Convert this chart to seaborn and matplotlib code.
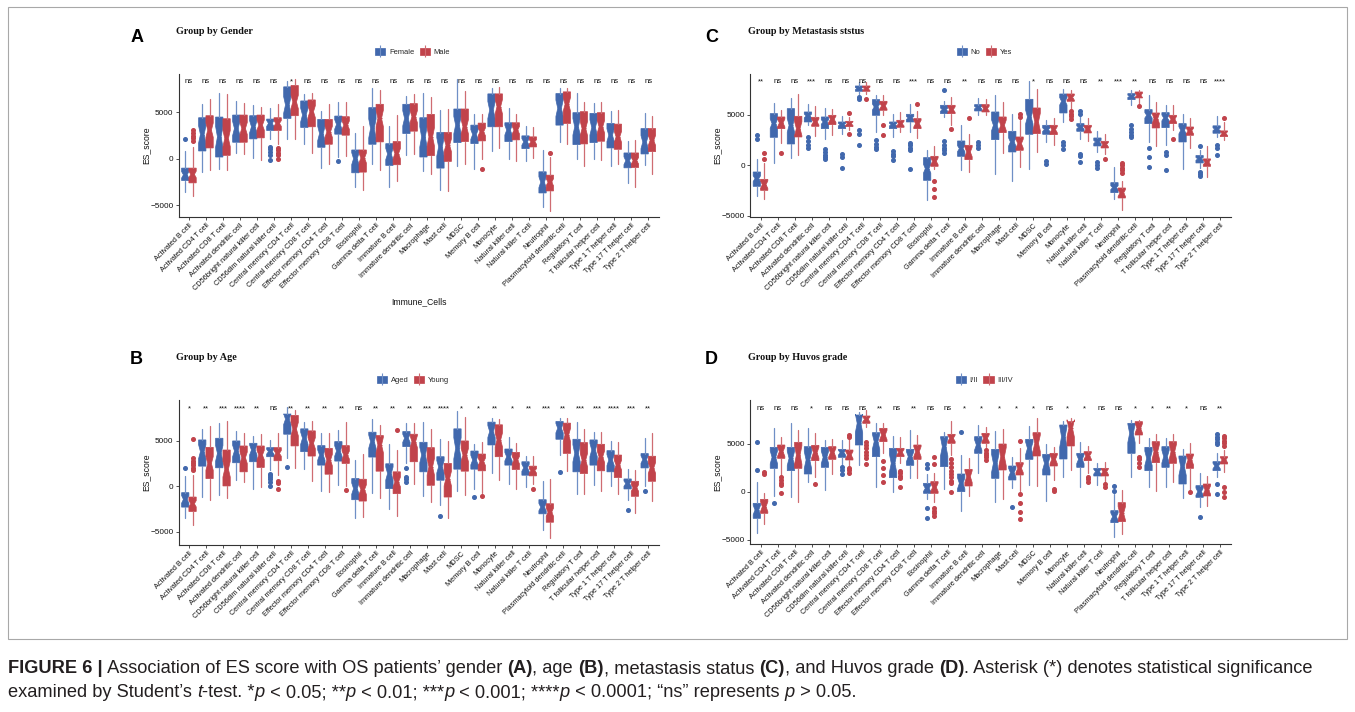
import numpy as np
import matplotlib
matplotlib.use("Agg")
import matplotlib.pyplot as plt
import seaborn as sns
from matplotlib.patches import Patch, Rectangle
from matplotlib.lines import Line2D
from matplotlib.legend_handler import HandlerTuple

# ---------------------------------------------------------------- data
CELLS = ["Activated B cell", "Activated CD4 T cell", "Activated CD8 T cell",
         "Activated dendritic cell", "CD56bright natural killer cell",
         "CD56dim natural killer cell", "Central memory CD4 T cell",
         "Central memory CD8 T cell", "Effector memory CD4 T cell",
         "Effector memory CD8 T cell", "Eosinophil", "Gamma delta T cell",
         "Immature B cell", "Immature dendritic cell", "Macrophage", "Mast cell",
         "MDSC", "Memory B cell", "Monocyte", "Natural killer cell",
         "Natural killer T cell", "Neutrophil", "Plasmacytoid dendritic cell",
         "Regulatory T cell", "T follicular helper cell", "Type 1 T helper cell",
         "Type 17 T helper cell", "Type 2 T helper cell"]

GENDER = ["Female", "Male"]
AGE = ["Aged", "Young"]
METAST = ["No", "Yes"]
HUVOS = ["I/II", "III/IV"]

# group sizes (used for notch width: median +/- 1.58*IQR/sqrt(n))
GENDER_N = [37, 51]
AGE_N = [36, 52]
METAST_N = [66, 22]
HUVOS_N = [26, 20]

SIG_A = ["ns"] * 6 + ["*"] + ["ns"] * 21
SIG_B = ["*", "**", "***", "****", "**", "ns", "**", "**", "**", "**", "ns", "**", "**", "**",
         "***", "****", "*", "*", "**", "*", "**", "***", "**", "***", "***", "****", "***", "**"]
SIG_C = ["**", "ns", "ns", "***", "ns", "ns", "ns", "ns", "ns", "***", "ns", "ns", "**", "ns",
         "ns", "ns", "*", "ns", "ns", "ns", "**", "***", "**", "ns", "ns", "ns", "ns", "****"]
SIG_D = ["ns", "ns", "ns", "*", "ns", "ns", "ns", "**", "ns", "**", "ns", "ns", "*", "*",
         "*", "*", "*", "ns", "*", "*", "ns", "ns", "*", "*", "**", "*", "ns", "**"]

# ---- Panel A : Female
A_F_Q1 = [-2355, 833, 181, 1775, 2138, 3043, 4348, 3370, 1232, 2645, -1522, 1558, -725, 2717, 181, -1014, 1739, 1630, 3442, 1848, 1087, -3696, 3623, 1522, 1739, 1159, -985, 511]
A_F_MED = [-1740, 2609, 2355, 3260, 3442, 3804, 5797, 4710, 2717, 3695, 0, 3260, 507, 4348, 2355, 1268, 3623, 2609, 5253, 3080, 1812, -2536, 5435, 3442, 3370, 2536, -219, 1789]
A_F_Q3 = [-1014, 4420, 4493, 4710, 4637, 4275, 7753, 6232, 4239, 4601, 942, 5507, 1620, 5869, 4420, 2826, 5362, 3623, 6993, 3877, 2464, -1413, 7029, 4964, 4891, 3804, 620, 3249]
A_F_LO = [-3620, -1450, -1087, 652, 36, 2101, 2101, 1594, -1014, 217, -3007, -616, -3007, 362, -1304, -3369, -833, -1087, 797, 0, -217, -5217, 1775, -72, -72, -833, -2664, -657]
A_F_HI = [797, 5906, 7101, 6268, 5833, 5435, 8333, 7029, 5181, 6159, 2826, 7608, 3514, 6739, 7137, 5253, 8623, 4818, 7608, 5507, 3514, 942, 7608, 7101, 6050, 5145, 1861, 4964]
A_F_OUT = [[2100], [], [], [], [], [1268, 1014, 725, 435, -109], [], [], [], [-290], [], [], [], [], [], [], [], [], [], [], [], [], [], [], [], [], [], []]
# ---- Panel A : Male
A_M_Q1 = [-2609, 1160, 362, 1775, 2246, 3043, 4637, 3442, 1558, 2536, -1449, 1812, -652, 2971, 326, -290, 1848, 1920, 3442, 2029, 1268, -3478, 3804, 1594, 1884, 1014, -949, 767]
A_M_MED = [-1700, 3080, 2174, 3260, 3623, 3804, 6123, 5072, 2898, 3623, 72, 4348, 543, 4529, 2355, 1449, 3442, 2898, 5616, 3080, 1812, -2536, 5869, 3260, 3442, 2355, -219, 1971]
A_M_Q3 = [-1014, 4637, 4311, 4710, 4710, 4420, 7898, 6340, 4239, 4529, 942, 5869, 1848, 5942, 4782, 2826, 5362, 3840, 6993, 3877, 2355, -1775, 7210, 5072, 4964, 3731, 620, 3249]
A_M_LO = [-4058, -1268, -1196, 543, -109, 1600, 2101, 652, -543, 254, -3369, -1196, -2389, 543, -1630, -3442, -616, -72, 1159, -217, 72, -5616, 1594, -761, -181, -580, -3030, -1679]
A_M_HI = [1268, 6413, 7029, 6014, 5616, 5942, 8623, 7101, 5869, 6159, 3551, 7427, 4742, 6993, 6630, 5362, 7355, 4782, 7717, 4855, 3442, 181, 7608, 6087, 6087, 5217, 1971, 4599]
A_M_OUT = [[3080, 2790, 2500, 2210, 1920], [], [], [], [], [1160, 906, 652, 362, 0], [], [], [], [], [], [], [], [], [], [], [], [-1087], [], [], [], [652], [], [], [], [], [], []]

# ---- Panel B : Aged
B_A_Q1 = [-2296, 2222, 2037, 2593, 2704, 3259, 5741, 3815, 2333, 2778, -1481, 3222, -259, 4370, 1593, 667, 1889, 1889, 4556, 2333, 1222, -3037, 5185, 1593, 2333, 1593, -294, 2024]
B_A_MED = [-1444, 3815, 3630, 3889, 4000, 3815, 7400, 5296, 3444, 3889, -259, 4926, 1407, 5296, 3444, 2148, 4185, 2889, 6037, 3259, 2037, -2296, 6407, 3630, 4000, 2889, 294, 2944]
B_A_Q3 = [-704, 5111, 5296, 5000, 4741, 4259, 7963, 6333, 4481, 4926, 852, 5963, 2481, 6037, 4852, 3259, 6333, 3889, 7074, 4111, 2704, -1481, 7148, 5185, 5111, 3926, 810, 3606]
B_A_LO = [-3482, -1185, -1000, 667, -259, 1800, 3074, 1852, -519, 111, -3519, -704, -2481, 2519, -1074, -2111, -556, -259, 1481, 296, -74, -4815, 3444, -815, 111, 0, -1472, 0]
B_A_HI = [1148, 6333, 6963, 6111, 5593, 5111, 8700, 7074, 5852, 6222, 2889, 7444, 4667, 6963, 7037, 5222, 8333, 4667, 7519, 5407, 3370, 556, 7519, 7037, 5963, 5000, 1914, 5336]
B_A_OUT = [[1963], [], [], [], [], [1407, 1222, 1037, 778, 481, 0], [2148], [], [], [], [], [], [], [1963, 1037, 778, 481], [], [-3222], [], [-1185], [], [], [], [], [1593], [], [], [], [-2576], [-478]]
# ---- Panel B : Young
B_Y_Q1 = [-2778, 852, 37, 1593, 2074, 2815, 4450, 3333, 1333, 2519, -1630, 1667, -815, 2704, 111, -1185, 1667, 1704, 3259, 1852, 1148, -3963, 3630, 1407, 1704, 963, -1104, 552]
B_Y_MED = [-1926, 2519, 1889, 3148, 3444, 3630, 6300, 4741, 2889, 3444, -370, 4556, 481, 4926, 2148, 852, 3444, 2704, 5111, 2889, 1704, -2852, 5667, 2889, 3259, 2333, -184, 2024]
B_Y_Q3 = [-1185, 4296, 4000, 4444, 4444, 4259, 7815, 6111, 4185, 4481, 778, 5593, 1593, 5741, 4259, 2519, 5000, 3556, 6778, 3741, 2222, -1926, 6963, 4815, 4630, 3444, 552, 3312]
B_Y_LO = [-4260, -1556, -1296, 481, -74, 1222, 2037, 556, -630, 37, -3333, -1296, -3222, 296, -1741, -3519, -1000, -700, 667, -333, 300, -5741, 1667, -815, -556, -815, -2944, -1656]
B_Y_HI = [1222, 6593, 7148, 5852, 5741, 5852, 8444, 7222, 5852, 7037, 3519, 6778, 4000, 6963, 6333, 5000, 7593, 4926, 7444, 4741, 3370, 852, 7519, 6333, 5963, 4852, 1840, 5888]
B_Y_OUT = [[5186, 3074, 2815, 2556, 2296, 2037, 1778], [], [], [], [], [593, 370, -259], [], [], [], [-444], [], [], [6259], [], [], [], [], [-1111], [], [], [-333], [], [], [], [], [], [], []]

# ---- Panel C : No
C_N_Q1 = [-2073, 2764, 2106, 4277, 3619, 3619, 7304, 4935, 3619, 4277, -1481, 5100, 888, 5362, 2533, 1316, 3060, 3060, 5165, 3356, 1908, -2698, 6481, 4113, 3718, 2303, 233, 3164]
C_N_MED = [-1316, 4113, 3948, 4869, 4277, 4014, 7567, 5757, 4014, 4672, -329, 5494, 1645, 5692, 3948, 2303, 4771, 3520, 6317, 3751, 2303, -2204, 6810, 4935, 4672, 3454, 633, 3563]
C_N_Q3 = [-658, 5100, 5593, 5264, 4771, 4277, 7830, 6481, 4277, 5034, 757, 5922, 2402, 5988, 5264, 3356, 6514, 3948, 7040, 4113, 2698, -1711, 7073, 5494, 5198, 4113, 966, 3896]
C_N_LO = [-3027, 230, 724, 4014, 2566, 3125, 7073, 3300, 2797, 3290, -3454, 4771, -428, 4935, -822, -1579, -395, 2303, 4277, 2566, 1316, -3356, 5922, 2303, 2040, -329, -300, 2830]
C_N_HI = [592, 6152, 6646, 6087, 5692, 4869, 8225, 6975, 5034, 6021, 1546, 6383, 3948, 6646, 6975, 5100, 8324, 4507, 7567, 4935, 3356, -164, 7403, 6975, 5988, 5034, 1500, 4895]
C_N_OUT = [[2961, 2566], [], [], [2797, 2369, 2040, 1711], [1579, 1316, 1053, 823, 592], [1152, 823, -230],
           [6745, 6514, 3454, 3125, 2040], [2468, 2139, 1810, 1579], [1382, 1152, 888, 559], [2204, 1974, 1711, 1480, -395],
           [], [7403, 2369, 1974, 1711, 1480, 1250], [], [2303, 2040, 1711], [], [], [], [395, 164], [2303, 2040, 1579],
           [5362, 5100, 1152, 888, 329], [329, 66, -263], [], [4014, 3619, 3290, 3027, 2764], [1711, 823, -164],
           [1316, 987, -494], [], [1950, -650, -850, -1050], [1965, 1732, 1066]]
# ---- Panel C : Yes
C_Y_Q1 = [-2468, 3619, 2797, 3849, 4014, 3816, 7304, 5429, 3751, 3619, -99, 5100, 559, 5264, 3224, 1480, 3125, 3027, 6317, 3191, 1711, -3224, 6646, 3685, 4113, 2961, -100, 2830]
C_Y_MED = [-1908, 4178, 3619, 4277, 4540, 4113, 7550, 5856, 4113, 4113, 395, 5494, 1316, 5593, 3948, 2139, 4277, 3520, 6679, 3553, 2040, -2731, 6909, 4606, 4540, 3388, 300, 3130]
C_Y_Q3 = [-1382, 4771, 4836, 4738, 4935, 4343, 7830, 6317, 4442, 4606, 888, 5922, 1974, 5988, 4771, 2797, 5659, 3948, 7040, 3948, 2369, -2237, 7238, 5165, 4935, 3783, 633, 3397]
C_Y_LO = [-3356, 2237, 987, 2862, 3027, 3454, 7073, 5000, 3290, 2698, -329, 4014, -658, 4935, 1250, -164, 1316, 2040, 5593, 2369, 1100, -4442, 6087, 1908, 3454, 1744, -1166, 2497]
C_Y_HI = [230, 5429, 7007, 5856, 5593, 4800, 8225, 6909, 5264, 5330, 1875, 6745, 3125, 6580, 6251, 4500, 7567, 4672, 7468, 4672, 3125, -1546, 7403, 6251, 5988, 4672, 1900, 4229]
C_Y_OUT = [[1217, 658], [1250], [], [], [], [5150, 3125], [6514], [4014, 3027], [], [6087], [-1579, -2303, -3125],
           [3619], [4672], [], [], [5100, 4771], [], [], [5330, 5100, 4869, 4606], [], [658],
           [263, 0, -263, -494, -724], [5823], [], [2566], [], [], [4629]]

# ---- Panel D : I/II
D_L_Q1 = [-2743, 2465, 2222, 1875, 2569, 3611, 4896, 3681, 1493, 2778, -139, 2639, 35, 4028, 1424, 1250, 3403, 1771, 3438, 2569, 1667, -3194, 4028, 2222, 2569, 833, -556, 2222]
D_L_MED = [-1875, 3611, 3507, 3333, 3611, 4097, 7153, 5243, 2986, 3681, 382, 4722, 903, 4896, 2986, 2014, 4549, 2986, 5764, 3403, 2118, -2569, 6111, 3507, 3681, 2639, 35, 2708]
D_L_Q3 = [-1180, 4653, 4653, 4722, 4653, 4444, 8021, 6180, 4549, 4444, 903, 5764, 1875, 5764, 4444, 2708, 5486, 3924, 6979, 4028, 2465, -1944, 7153, 4653, 4722, 3750, 660, 3160]
D_L_LO = [-4236, -417, -556, 1076, 208, 2812, 2812, 556, 35, 1424, -700, 278, -1944, 2014, -1007, 382, 729, -938, 1597, 556, 729, -4722, 1597, 486, 486, -660, -1528, 1528]
D_L_HI = [1076, 6701, 7222, 6701, 5417, 5417, 8368, 7222, 5833, 6458, 1875, 6285, 3854, 6979, 6389, 3681, 6875, 5000, 7431, 5243, 3056, -200, 7500, 5590, 5590, 4444, 1944, 4028]
D_L_OUT = [[5208, 2292], [-1111], [], [], [], [2569, 2292, 1875], [], [], [], [], [2917, 2465, -1701, -2743], [],
           [6285], [], [], [-1528], [], [], [], [], [], [625, 104], [], [], [], [], [-2639],
           [6007, 5764, 5486, 5243, 5000, 833, -208]]
# ---- Panel D : III/IV
D_H_Q1 = [-2222, 3507, 2465, 3264, 3403, 3333, 7153, 5243, 3681, 3403, -139, 5069, 625, 5069, 2292, 1771, 3750, 2708, 4792, 3264, 1667, -3090, 5937, 3056, 2986, 2465, -417, 2917]
D_H_MED = [-1528, 4201, 3854, 4097, 4097, 3854, 7569, 5937, 4132, 4201, 486, 5590, 1597, 5590, 3681, 2465, 5069, 3403, 6632, 3750, 2118, -2222, 6632, 4201, 4201, 3333, 208, 3333]
D_H_Q3 = [-764, 4896, 5174, 4861, 4722, 4375, 7917, 6632, 4549, 4896, 1076, 6007, 2361, 6111, 5000, 3056, 6180, 4028, 7326, 4201, 2465, -1111, 7326, 5243, 5243, 3958, 833, 3681]
D_H_LO = [-3333, 1667, -1076, 1597, 1875, 2639, 6736, 4028, 2986, 1424, -1007, 3854, -417, 4650, -764, 100, 625, 1250, 2292, 2014, 1076, -4375, 5069, 139, 1076, 208, -1458, 2118]
D_H_HI = [-69, 5764, 6458, 6111, 5486, 5486, 8542, 7222, 5764, 5937, 2014, 7396, 3507, 6736, 6528, 4600, 7674, 4722, 7674, 4792, 3160, 208, 7500, 6042, 6007, 5139, 1667, 4375]
D_H_OUT = [[2118, 1875], [1528, 1250, 972, 729, -139], [], [833], [], [5937, 5694, 2465, 2292, 2014],
           [5243, 4896, 4549, 4201, 3854, 3507, 2917], [3264, 2465, 1771, 1076], [2222, 1944, 1667, 1424, 486], [],
           [3611, 2917, -1701, -1944, -2222, -2500], [3403, 2986, 2569, 2222, 1875, 1528, 1181, 972, 35], [],
           [4375, 4097, 3854, 3611, 3333], [], [5300, -208, -1111, -2049, -2847], [], [278, 139], [],
           [1597, 1319, 1076], [833, 556], [], [3681, 3403, 3056, 2639], [], [], [35], [],
           [5833, 5590, 5347, 5069, 4792, 556, 35, -486]]

CAPTION_1 = [("FIGURE 6 |", "bold", "normal"),
             (" Association of ES score with OS patients\u2019 gender ", "normal", "normal"),
             ("(A)", "bold", "normal"), (", age ", "normal", "normal"), ("(B)", "bold", "normal"),
             (", metastasis status ", "normal", "normal"), ("(C)", "bold", "normal"),
             (", and Huvos grade ", "normal", "normal"), ("(D)", "bold", "normal"),
             (". Asterisk (*) denotes statistical significance", "normal", "normal")]
CAPTION_2 = [("examined by Student\u2019s ", "normal", "normal"), ("t", "normal", "italic"),
             ("-test. *", "normal", "normal"), ("p", "normal", "italic"),
             (" < 0.05; **", "normal", "normal"), ("p", "normal", "italic"),
             (" < 0.01; ***", "normal", "normal"), ("p", "normal", "italic"),
             (" < 0.001; ****", "normal", "normal"), ("p", "normal", "italic"),
             (" < 0.0001; \u201cns\u201d represents ", "normal", "normal"), ("p", "normal", "italic"),
             (" > 0.05.", "normal", "normal")]

# ---------------------------------------------------------------- style
sns.set_theme(style="ticks")
plt.rcParams["font.family"] = ["Liberation Sans", "DejaVu Sans"]
BLUE = "#4168AD"
RED = "#C1434B"
BLUE_W = "#6F8FC6"
RED_W = "#CF6C72"
TXT = "#111111"

W, H = 1355, 712
fig = plt.figure(figsize=(W / 100, H / 100), dpi=100)
fig.patch.set_facecolor("white")


def fx(px):
    return px / W


def fy(py):
    return 1 - py / H


BOX_W = 0.43
OFFSET = 0.215


def draw_group(ax, q1, med, q3, lo, hi, out, n, offset, color, wcolor):
    stats = []
    for i in range(len(CELLS)):
        half = 1.58 * (q3[i] - q1[i]) / np.sqrt(n)
        stats.append(dict(med=med[i], q1=q1[i], q3=q3[i], whislo=lo[i], whishi=hi[i],
                          fliers=np.asarray(out[i], dtype=float),
                          cilo=med[i] - half, cihi=med[i] + half))
    ax.bxp(stats, positions=np.arange(len(CELLS)) + offset, widths=BOX_W,
           patch_artist=True, shownotches=True, showcaps=False, manage_ticks=False,
           boxprops=dict(facecolor=color, edgecolor=color, linewidth=0.5),
           whiskerprops=dict(color=wcolor, linewidth=0.9),
           medianprops=dict(color=color, linewidth=0.8),
           flierprops=dict(marker="o", markerfacecolor=color, markeredgecolor=color,
                           markersize=2.6, linestyle="none"))


PANELS = [
    dict(letter="A", title="Group by Gender", groups=GENDER, n=GENDER_N, sig=SIG_A, sig_y=8166,
         ylim=(-6290, 9170), rect=(178.7, 73.7, 658.5, 217.0), title_xy=(176, 31),
         letter_xy=(137.5, 37), legend_y=52, xlabel="Immune_Cells",
         g1=(A_F_Q1, A_F_MED, A_F_Q3, A_F_LO, A_F_HI, A_F_OUT),
         g2=(A_M_Q1, A_M_MED, A_M_Q3, A_M_LO, A_M_HI, A_M_OUT)),
    dict(letter="C", title="Group by Metastasis ststus", groups=METAST, n=METAST_N, sig=SIG_C,
         sig_y=8124, ylim=(-5100, 9040), rect=(750.3, 73.7, 1230.5, 217.0), title_xy=(748, 31),
         letter_xy=(711.5, 37), legend_y=52, xlabel=None,
         g1=(C_N_Q1, C_N_MED, C_N_Q3, C_N_LO, C_N_HI, C_N_OUT),
         g2=(C_Y_Q1, C_Y_MED, C_Y_Q3, C_Y_LO, C_Y_HI, C_Y_OUT)),
    dict(letter="B", title="Group by Age", groups=AGE, n=AGE_N, sig=SIG_B, sig_y=8412,
         ylim=(-6440, 9480), rect=(178.7, 400.3, 658.5, 544.7), title_xy=(176, 358),
         letter_xy=(136.5, 359), legend_y=380, xlabel=None,
         g1=(B_A_Q1, B_A_MED, B_A_Q3, B_A_LO, B_A_HI, B_A_OUT),
         g2=(B_Y_Q1, B_Y_MED, B_Y_Q3, B_Y_LO, B_Y_HI, B_Y_OUT)),
    dict(letter="D", title="Group by Huvos grade", groups=HUVOS, n=HUVOS_N, sig=SIG_D, sig_y=8542,
         ylim=(-5417, 9583), rect=(750.3, 400.0, 1230.5, 544.0), title_xy=(748, 358),
         letter_xy=(711.5, 359), legend_y=380, xlabel=None,
         g1=(D_L_Q1, D_L_MED, D_L_Q3, D_L_LO, D_L_HI, D_L_OUT),
         g2=(D_H_Q1, D_H_MED, D_H_Q3, D_H_LO, D_H_HI, D_H_OUT)),
]

for p in PANELS:
    l, t, r, b = p["rect"]
    ax = fig.add_axes([fx(l), fy(b), (r - l) / W, (b - t) / H])
    ax.set_facecolor("white")
    draw_group(ax, *p["g1"], p["n"][0], -OFFSET, BLUE, BLUE_W)
    draw_group(ax, *p["g2"], p["n"][1], OFFSET, RED, RED_W)
    ax.set_xlim(-0.6, len(CELLS) - 0.4)
    ax.set_ylim(*p["ylim"])
    ax.set_yticks([-5000, 0, 5000])
    ax.set_xticks(np.arange(len(CELLS)))
    ax.set_xticklabels(CELLS, rotation=45, ha="right", va="top", rotation_mode="anchor",
                       fontsize=5.3, color=TXT)
    ax.tick_params(axis="y", labelsize=5.9, labelcolor=TXT, length=2.2, width=0.6, pad=1.5,
                   color="#333333")
    ax.tick_params(axis="x", length=2.2, width=0.6, pad=1.6, color="#333333")
    sns.despine(ax=ax)
    for s in ("left", "bottom"):
        ax.spines[s].set_linewidth(0.8)
        ax.spines[s].set_color("#333333")
    ax.set_ylabel("ES_score", fontsize=6.2, color=TXT)
    ax.yaxis.set_label_coords(-0.069, 0.5)
    ax.yaxis.label.set_va("center")
    if p["xlabel"]:
        ax.set_xlabel(p["xlabel"], fontsize=6.2, color=TXT)
        ax.xaxis.set_label_coords(0.5, -0.593)
        ax.xaxis.label.set_va("center")
    for i, s in enumerate(p["sig"]):
        ax.text(i, p["sig_y"], s, ha="center", va="baseline", fontsize=5.6, color=TXT)
    # legend: filled key with a vertical whisker line through it (ggplot boxplot key)
    handles = [(Patch(facecolor=c, edgecolor=c, linewidth=0.5),
                Line2D([0], [0], color=wc, lw=0, marker="|", markersize=8.5, markeredgewidth=0.8))
               for c, wc in ((BLUE, BLUE_W), (RED, RED_W))]
    cx = (l + r) / 2 - 6
    ax.legend(handles, p["groups"], handler_map={tuple: HandlerTuple(ndivide=1, pad=0)},
              loc="center", bbox_to_anchor=(fx(cx), fy(p["legend_y"])),
              bbox_transform=fig.transFigure, ncol=2, frameon=False, fontsize=5.4,
              handlelength=1.35, handleheight=1.05, handletextpad=0.5, columnspacing=0.7,
              borderaxespad=0, borderpad=0)
    # title & letter
    fig.text(fx(p["title_xy"][0]), fy(p["title_xy"][1]), p["title"], ha="left", va="center",
             fontsize=7.3, fontweight="bold", family=["Liberation Serif", "DejaVu Serif"],
             color=TXT)
    fig.text(fx(p["letter_xy"][0]), fy(p["letter_xy"][1]), p["letter"], ha="center",
             va="center", fontsize=13, fontweight="bold", color="black")

# border
fig.add_artist(Rectangle((fx(8), fy(639)), (1347 - 8) / W, (639 - 7) / H,
                         transform=fig.transFigure, fill=False, edgecolor="#a8a8a8",
                         linewidth=0.8))

# caption (rich text, drawn piecewise)
renderer = fig.canvas.get_renderer()
CAP_FAMILY = ["Liberation Sans", "DejaVu Sans"]


def seg_width(txt, weight, style, size):
    t1 = fig.text(0, 0, "|" + txt + "|", fontsize=size, fontweight=weight, fontstyle=style,
                  family=CAP_FAMILY)
    t2 = fig.text(0, 0, "||", fontsize=size, fontweight=weight, fontstyle=style,
                  family=CAP_FAMILY)
    w = t1.get_window_extent(renderer).width - t2.get_window_extent(renderer).width
    t1.remove()
    t2.remove()
    return w


def draw_rich(segments, x_px, y_px, size):
    x = x_px
    for txt, weight, style in segments:
        fig.text(fx(x), fy(y_px), txt, fontsize=size, fontweight=weight, fontstyle=style,
                 family=CAP_FAMILY, color="#231f20", ha="left", va="baseline")
        x += seg_width(txt, weight, style, size)


w10 = sum(seg_width(s, wgt, st, 10) for s, wgt, st in CAPTION_1)
cap_size = 10 * (1320 - 8) / w10
draw_rich(CAPTION_1, 8, 673, cap_size)
draw_rich(CAPTION_2, 8, 697, cap_size)

fig.savefig("out.png", dpi=100, facecolor="white")
